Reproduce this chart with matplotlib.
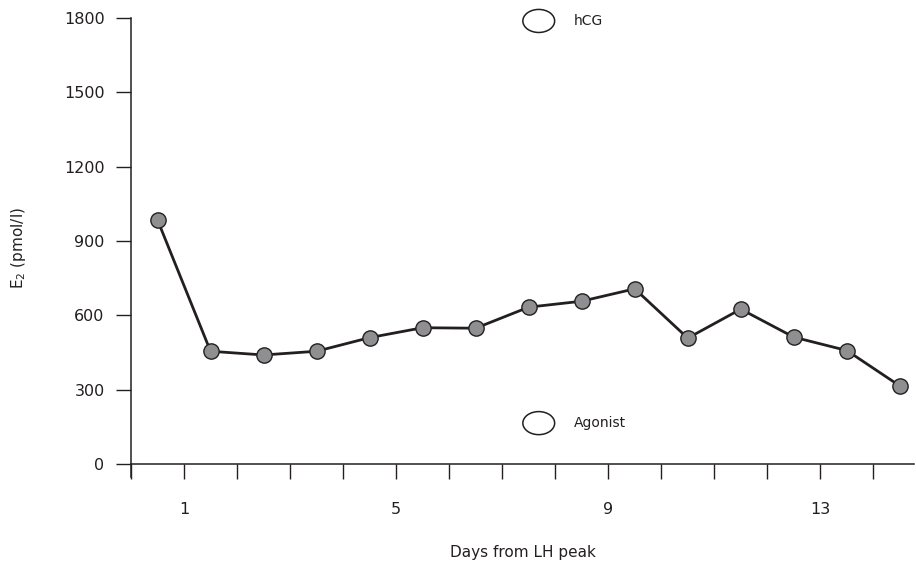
import matplotlib
matplotlib.use('Agg')
import matplotlib.pyplot as plt
from matplotlib.patches import Ellipse

# data
days = [0.5, 1.5, 2.5, 3.5, 4.5, 5.5, 6.5, 7.5, 8.5, 9.5, 10.5, 11.5, 12.5, 13.5, 14.5]
e2 = [985, 455, 440, 455, 510, 550, 548, 633, 657, 707, 508, 625, 512, 458, 315]
tick_days = list(range(15))
tick_labels = ['', '1', '', '', '', '5', '', '', '', '9', '', '', '', '13', '']
y_ticks = [0, 300, 600, 900, 1200, 1500, 1800]

ink = '#231f20'
plt.rcParams['font.family'] = ['DejaVu Sans']

fig = plt.figure(figsize=(9.16, 5.62), dpi=100)
ax = fig.add_axes([0.143, 0.151, 0.855, 0.817])

ax.plot(days, e2, color=ink, lw=2.0, marker='o', ms=11,
        mfc='#8f8f91', mec=ink, mew=1.0, zorder=3)

# legend-like annotations
ax.add_patch(Ellipse((7.69, 1788), 0.6, 93, fc='white', ec=ink, lw=1.1, clip_on=False))
ax.text(8.35, 1788, 'hCG', fontsize=10, color=ink, va='center', ha='left')
ax.add_patch(Ellipse((7.69, 165), 0.6, 93, fc='white', ec=ink, lw=1.1, clip_on=False))
ax.text(8.35, 165, 'Agonist', fontsize=10, color=ink, va='center', ha='left')

ax.set_xlim(0, 14.77)
ax.set_ylim(-53, 1800)
ax.spines['top'].set_visible(False)
ax.spines['right'].set_visible(False)
ax.spines['bottom'].set_position(('data', 0))
for s in ['left', 'bottom']:
    ax.spines[s].set_color(ink)
    ax.spines[s].set_linewidth(1.1)

ax.set_xticks(tick_days)
ax.set_xticklabels(tick_labels)
ax.set_yticks(y_ticks)
ax.tick_params(axis='x', direction='out', length=10.5, width=1.0, color=ink,
               labelsize=11.5, labelcolor=ink, pad=17)
ax.tick_params(axis='y', direction='out', length=11, width=1.0, color=ink,
               labelsize=11.5, labelcolor=ink, pad=8)

ax.set_xlabel('Days from LH peak', fontsize=11, color=ink, labelpad=20)
ax.set_ylabel('E$_2$ (pmol/l)', fontsize=11, color=ink, labelpad=26)

fig.savefig('out.png', dpi=100)
